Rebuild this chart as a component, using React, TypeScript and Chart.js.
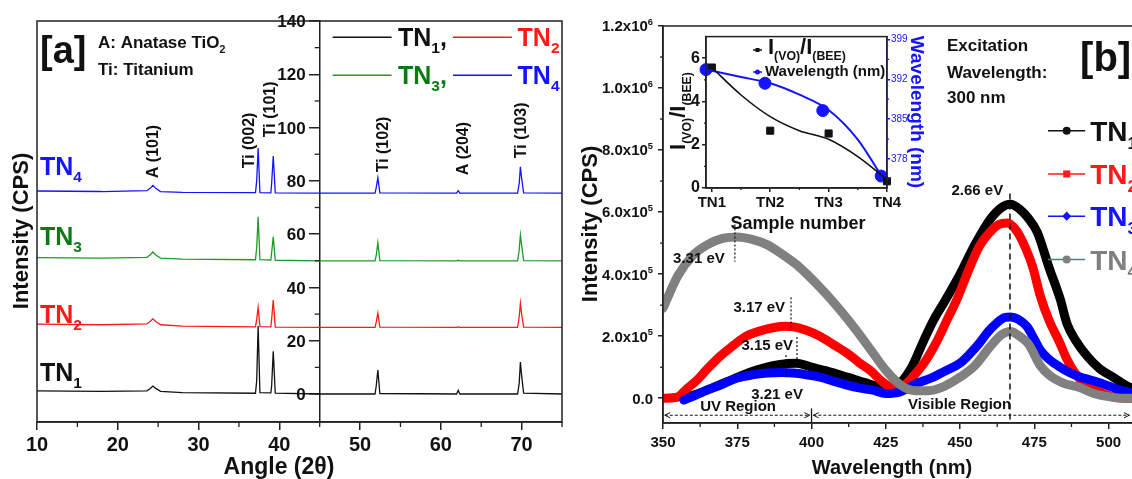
import React, { useEffect, useRef } from 'react';
import { Chart, registerables } from 'chart.js';

Chart.register(...registerables);

const FONT = "'Liberation Sans', Arial, Helvetica, sans-serif";
const INK = '#111111';
const RED = '#ff1a1a';
const GREEN_LINE = '#1f9a2a';
const GREEN_TEXT = '#0a7a12';
const BLUE = '#1414ff';
const GRAY = '#808080';

// ---------------- Panel (a): XRD patterns ----------------
const xrdAngles = [10, 18, 23.6, 24.0, 24.35, 24.7, 25.3, 28, 37.05, 37.2, 37.38, 37.6, 38.95, 39.05, 39.25, 39.5, 45, 51.85, 52.0, 52.2, 52.45, 61.95, 62.15, 62.35, 69.5, 69.7, 69.85, 70.0, 70.25, 75];
const xrdTN1 = [1.2, 1.0, 1.2, 2.0, 3.0, 2.1, 1.0, 0.5, 0.3, 5, 25.5, 0.5, 0.4, 3, 16, 0.3, 0, 0, 3, 9, 0.2, 0, 1.4, 0, 0, 4, 12, 7, 0.3, 0];
const xrdTN2 = [26.2, 26.0, 26.3, 27.2, 28.2, 27.2, 26.0, 25.5, 25.2, 28, 32.5, 25.3, 25.2, 28, 35.3, 25.1, 25.0, 25.0, 27, 30.3, 25.1, 25.0, 25.2, 25.0, 25.0, 29, 34, 30, 25.1, 25.0];
const xrdTN3 = [51.2, 51.0, 51.3, 52.2, 53.3, 52.2, 51.0, 50.6, 50.4, 55, 66.5, 50.4, 50.3, 53, 59, 50.2, 50.0, 50.0, 52, 56.8, 50.1, 50.0, 50.2, 50.0, 50.0, 54, 59.7, 56, 50.1, 50.0];
const xrdTN4 = [76.2, 76.0, 76.3, 77.2, 78.3, 77.2, 76.0, 75.7, 75.6, 80, 92.3, 75.6, 75.5, 79, 89.3, 75.5, 75.4, 75.4, 77.5, 81.2, 75.5, 75.4, 76.3, 75.4, 75.4, 79, 85.3, 81, 75.5, 75.4];
const xrdTicksX = [10, 20, 30, 40, 50, 60, 70];
const xrdMinorX = [15, 25, 35, 45, 55, 65, 75];
const xrdTicksY = [0, 20, 40, 60, 80, 100, 120, 140];
const xrdMinorY = [10, 30, 50, 70, 90, 110, 130];

// ---------------- Panel (b): PL spectra (intensity in units of 1e5 CPS) ----------------
const plWlTN1 = [357, 362, 367, 372, 377, 382, 387, 392, 395, 400, 405, 412, 418, 423, 427, 430, 434, 437.5, 441, 445, 450, 455, 460, 464, 467, 470, 473, 476, 480, 483.7, 486, 489, 493, 497, 501.5, 507, 515];
const plTN1 = [0.0, 0.15, 0.35, 0.55, 0.75, 0.92, 1.05, 1.12, 1.13, 1.0, 0.88, 0.68, 0.5, 0.36, 0.32, 0.5, 1.05, 1.8, 2.5, 3.15, 4.0, 4.95, 5.75, 6.15, 6.25, 6.1, 5.8, 5.35, 4.2, 3.2, 2.4, 1.85, 1.33, 0.95, 0.68, 0.36, 0.15];
const plWlTN2 = [350, 354.7, 358, 361.4, 365, 369, 373, 378, 383, 387, 391, 394, 398, 402.8, 407, 412, 416, 419.7, 423, 425.4, 428, 431, 434, 438, 442, 445.5, 449, 453.4, 456.5, 460, 463, 466, 469, 472, 474.4, 477, 480, 483.5, 486, 488.8, 492, 495.5, 502, 507, 515];
const plTN2 = [0.0, 0.03, 0.3, 0.58, 0.95, 1.33, 1.65, 2.0, 2.18, 2.27, 2.32, 2.3, 2.2, 2.0, 1.75, 1.45, 1.15, 0.9, 0.6, 0.42, 0.3, 0.4, 0.68, 1.15, 1.8, 2.5, 3.2, 4.25, 4.9, 5.35, 5.6, 5.65, 5.4, 4.85, 4.25, 3.3, 2.5, 1.8, 1.25, 0.8, 0.45, 0.26, 0.03, 0.0, 0.0];
const plWlTN3 = [357, 361, 364.8, 370, 375, 380, 385, 390, 394, 398, 402.8, 407, 412, 416, 420.7, 425, 429.8, 432, 436, 441, 445, 450, 453.5, 456.7, 459.5, 462.4, 465, 467, 469.5, 472.6, 475, 477, 480, 483.7, 487, 490.4, 497, 503.8, 510, 515];
const plTN3 = [-0.06, 0.1, 0.26, 0.45, 0.65, 0.75, 0.81, 0.83, 0.81, 0.76, 0.68, 0.56, 0.42, 0.33, 0.26, 0.15, 0.2, 0.3, 0.5, 0.68, 0.88, 1.13, 1.45, 1.8, 2.15, 2.43, 2.6, 2.62, 2.55, 2.3, 1.9, 1.55, 1.25, 1.0, 0.82, 0.68, 0.5, 0.26, 0.12, 0.05];
const plWlTN4 = [350, 355, 360, 365, 370, 375, 380, 385, 390, 395, 400, 405, 410, 415, 420, 425, 430, 435, 440, 445, 450, 455, 460, 464, 467, 470, 473, 477, 480, 485, 490, 495, 500, 505, 515];
const plTN4 = [2.9, 3.95, 4.6, 4.95, 5.15, 5.2, 5.12, 4.95, 4.65, 4.3, 3.85, 3.35, 2.8, 2.2, 1.55, 0.9, 0.42, 0.24, 0.25, 0.4, 0.68, 1.05, 1.65, 2.05, 2.15, 2.0, 1.75, 1.05, 0.75, 0.48, 0.35, 0.15, 0.05, 0.0, 0.0];
const plTicksX = [350, 375, 400, 425, 450, 475, 500];
const plMinorX = [362.5, 387.5, 412.5, 437.5, 462.5, 487.5, 512.5];
const plTicksY = [0, 2, 4, 6, 8, 10, 12];
const plTickLabelsY = ['0.0', '2.0x10^5', '4.0x10^5', '6.0x10^5', '8.0x10^5', '1.0x10^6', '1.2x10^6'];
const plMinorY = [1, 3, 5, 7, 9, 11];

// ---------------- Inset ----------------
const insetSamples = ['TN1', 'TN2', 'TN3', 'TN4'];
const insetX = [0, 1, 2, 3];
const insetRatio = [5.57, 2.65, 2.52, 0.31];
const insetWlX = [-0.1, 0.91, 1.9, 2.9];
const insetWl = [393.7, 391.3, 386.5, 375.0];
const insetRatioFitX = [0, 0.5, 1, 1.5, 2, 2.5, 2.95];
const insetRatioFit = [5.57, 4.3, 3.3, 2.65, 2.25, 1.45, 0.5];
const insetWlFitX = [-0.1, 0.5, 1, 1.5, 2, 2.5, 2.9];
const insetWlFit = [393.7, 392.4, 391.3, 389.3, 386.6, 381.4, 375.1];
const insetTicksY = [0, 2, 4, 6];
const insetMinorY = [1, 3, 5];
const insetTicksY2 = [378, 385, 392, 399];
const insetMinorY2 = [374.5, 381.5, 388.5, 395.5];
const insetMinorX = [0.5, 1.5, 2.5];

// ---------------- decoration helpers ----------------
type Seg = { t: string; k?: 'sub' | 'sup' };
type Txt = { text: string | Seg[]; x: number; y: number; px?: boolean; ys?: string; size: number; color?: string; align?: 'left' | 'center' | 'right'; rot?: number; weight?: string; sub?: number };
type Ln = { x1: number; y1: number; x2: number; y2: number; px?: boolean; ys?: string; color?: string; width?: number; dash?: number[]; arrows?: boolean };
type Minor = { scale: string; values: number[]; len: number; atScale?: string; atValue?: number; color?: string };
type Mark = { x: number; y: number; px?: boolean; ys?: string; shape: 'circle' | 'rect' | 'diamond'; r: number; color: string };
type AxisLabels = { scale: string; atScale?: string; atValue?: number; gap: number; size: number };
type Deco = { texts?: Txt[]; lines?: Ln[]; minor?: Minor[]; frame?: boolean; marks?: Mark[]; axisLabels?: AxisLabels };

function drawRich(ctx: CanvasRenderingContext2D, t: Txt, X: number, Y: number) {
  const segs: Seg[] = typeof t.text === 'string' ? [{ t: t.text }] : t.text;
  const w = t.weight ?? 'bold';
  const subScale = t.sub ?? 0.62;
  const parts = segs.map((s) => {
    const fs = s.k ? t.size * subScale : t.size;
    ctx.font = `${w} ${fs}px ${FONT}`;
    return { ...s, fs, w: ctx.measureText(s.t).width };
  });
  const W = parts.reduce((a, p) => a + p.w, 0);
  let x0 = t.align === 'center' ? -W / 2 : t.align === 'right' ? -W : 0;
  ctx.save();
  ctx.translate(X, Y);
  if (t.rot) ctx.rotate(t.rot);
  ctx.fillStyle = t.color ?? INK;
  ctx.textBaseline = 'alphabetic';
  ctx.textAlign = 'left';
  const base = t.size * 0.36;
  for (const p of parts) {
    ctx.font = `${w} ${p.fs}px ${FONT}`;
    const dy = p.k === 'sub' ? t.size * 0.28 : p.k === 'sup' ? -t.size * 0.45 : 0;
    ctx.fillText(p.t, x0, base + dy);
    x0 += p.w;
  }
  ctx.restore();
}

// "2.0x10^5" -> base text + superscript exponent
const toSegs = (label: string): Seg[] => {
  const [b, e] = label.split('^');
  return e ? [{ t: b }, { t: e, k: 'sup' }] : [{ t: b }];
};

function makeDeco(id: string, d: Deco) {
  return {
    id,
    afterDatasetsDraw(chart: any) {
      const ctx: CanvasRenderingContext2D = chart.ctx;
      const a = chart.chartArea;
      const P = (px: boolean | undefined, x: number, y: number, ys?: string) =>
        px ? [x, y] : [chart.scales.x.getPixelForValue(x), chart.scales[ys ?? 'y'].getPixelForValue(y)];
      ctx.save();
      if (d.frame) {
        ctx.strokeStyle = '#222';
        ctx.lineWidth = 1.5;
        ctx.setLineDash([]);
        ctx.strokeRect(a.left, a.top, a.right - a.left, a.bottom - a.top);
      }
      if (d.axisLabels) {
        const al = d.axisLabels;
        const s = chart.scales[al.scale];
        const axisX = al.atScale ? chart.scales[al.atScale].getPixelForValue(al.atValue) : s.right;
        for (const tk of s.ticks) {
          drawRich(
            ctx,
            { text: toSegs(String(tk.label ?? tk.value)), x: 0, y: 0, size: al.size, align: 'right', sub: 0.62 },
            axisX - al.gap,
            s.getPixelForValue(tk.value)
          );
        }
      }
      for (const m of d.minor ?? []) {
        const s = chart.scales[m.scale];
        ctx.strokeStyle = m.color ?? '#222';
        ctx.lineWidth = 1.3;
        for (const v of m.values) {
          const p = s.getPixelForValue(v);
          ctx.beginPath();
          if (s.isHorizontal()) {
            ctx.moveTo(p, s.top);
            ctx.lineTo(p, s.top + m.len);
          } else {
            let x0 = s.right;
            let dir = -1;
            if (m.atScale) {
              x0 = chart.scales[m.atScale].getPixelForValue(m.atValue);
            } else if (s.position === 'right') {
              x0 = s.left;
              dir = 1;
            }
            ctx.moveTo(x0, p);
            ctx.lineTo(x0 + dir * m.len, p);
          }
          ctx.stroke();
        }
      }
      for (const l of d.lines ?? []) {
        const [x1, y1] = P(l.px, l.x1, l.y1, l.ys);
        const [x2, y2] = P(l.px, l.x2, l.y2, l.ys);
        ctx.strokeStyle = l.color ?? INK;
        ctx.lineWidth = l.width ?? 1.2;
        ctx.setLineDash(l.dash ?? []);
        ctx.beginPath();
        ctx.moveTo(x1, y1);
        ctx.lineTo(x2, y2);
        ctx.stroke();
        ctx.setLineDash([]);
        if (l.arrows) {
          const ang = Math.atan2(y2 - y1, x2 - x1);
          const head = (x: number, y: number, dirAng: number) => {
            ctx.beginPath();
            ctx.moveTo(x + 6 * Math.cos(dirAng + 0.45), y + 6 * Math.sin(dirAng + 0.45));
            ctx.lineTo(x, y);
            ctx.lineTo(x + 6 * Math.cos(dirAng - 0.45), y + 6 * Math.sin(dirAng - 0.45));
            ctx.stroke();
          };
          head(x1, y1, ang);
          head(x2, y2, ang + Math.PI);
        }
      }
      for (const m of d.marks ?? []) {
        const [x, y] = P(m.px, m.x, m.y, m.ys);
        ctx.fillStyle = m.color;
        ctx.beginPath();
        if (m.shape === 'circle') ctx.arc(x, y, m.r, 0, Math.PI * 2);
        else if (m.shape === 'rect') ctx.rect(x - m.r, y - m.r, 2 * m.r, 2 * m.r);
        else {
          ctx.moveTo(x, y - m.r * 1.3);
          ctx.lineTo(x + m.r * 1.3, y);
          ctx.lineTo(x, y + m.r * 1.3);
          ctx.lineTo(x - m.r * 1.3, y);
          ctx.closePath();
        }
        ctx.fill();
      }
      for (const t of d.texts ?? []) {
        const [x, y] = P(t.px, t.x, t.y, t.ys);
        drawRich(ctx, t, x, y);
      }
      ctx.restore();
    },
  };
}

const tickFont = (size: number) => ({ family: FONT, size, weight: 'bold' as const });
const axisGrid = (len: number, color = '#222') => ({ drawOnChartArea: false, drawTicks: true, tickLength: len, color, lineWidth: 1.5 });
const setTicks = (vals: number[]) => (s: any) => {
  s.ticks = vals.map((v) => ({ value: v }));
};
const pts = (xs: number[], ys: number[]) => xs.map((x, i) => ({ x, y: ys[i] }));

const TN = (n: string, comma = false): Seg[] => (comma ? [{ t: 'TN' }, { t: n, k: 'sub' }, { t: ',' }] : [{ t: 'TN' }, { t: n, k: 'sub' }]);

// ---------------- annotation configs ----------------
const xrdDeco: Deco = {
  frame: true,
  axisLabels: { scale: 'y', atScale: 'x', atValue: 45, gap: 14, size: 17 },
  minor: [
    { scale: 'x', values: xrdMinorX, len: 5 },
    { scale: 'y', values: xrdMinorY, len: 5, atScale: 'x', atValue: 45 },
  ],
  lines: [
    { x1: 46.6, y1: 133.9, x2: 53.9, y2: 133.9, color: INK, width: 1.5 },
    { x1: 61.5, y1: 133.9, x2: 68.8, y2: 133.9, color: RED, width: 1.5 },
    { x1: 46.6, y1: 119.6, x2: 53.9, y2: 119.6, color: GREEN_LINE, width: 1.5 },
    { x1: 61.5, y1: 119.6, x2: 68.8, y2: 119.6, color: BLUE, width: 1.5 },
  ],
  texts: [
    { text: '[a]', x: 10.37, y: 129.4, size: 38 },
    { text: [{ t: 'A: Anatase TiO' }, { t: '2', k: 'sub' }], x: 17.55, y: 132, size: 17 },
    { text: 'Ti: Titanium', x: 17.55, y: 122.2, size: 17 },
    { text: TN('4'), x: 10.37, y: 85.5, size: 25, color: BLUE },
    { text: TN('3'), x: 10.37, y: 59.2, size: 25, color: GREEN_TEXT },
    { text: TN('2'), x: 10.37, y: 30.2, size: 25, color: RED },
    { text: TN('1'), x: 10.37, y: 8.25, size: 25, color: INK },
    { text: 'A (101)', x: 24.23, y: 81, size: 16, rot: -Math.PI / 2 },
    { text: 'Ti (002)', x: 36.1, y: 84.7, size: 16, rot: -Math.PI / 2 },
    { text: 'Ti (101)', x: 38.7, y: 96.4, size: 16, rot: -Math.PI / 2 },
    { text: 'Ti (102)', x: 52.8, y: 83.2, size: 16, rot: -Math.PI / 2 },
    { text: 'A (204)', x: 62.7, y: 82.1, size: 16, rot: -Math.PI / 2 },
    { text: 'Ti (103)', x: 69.8, y: 88.5, size: 16, rot: -Math.PI / 2 },
    { text: TN('1', true), x: 54.7, y: 133.9, size: 25, color: INK },
    { text: TN('2'), x: 69.5, y: 133.9, size: 25, color: RED },
    { text: TN('3', true), x: 54.7, y: 119.6, size: 25, color: GREEN_TEXT },
    { text: TN('4'), x: 69.5, y: 119.6, size: 25, color: BLUE },
    { text: 'Intensity (CPS)', x: 20, y: 231, px: true, size: 22, rot: -Math.PI / 2, align: 'center' },
    { text: 'Angle (2\u03b8)', x: 279, y: 466, px: true, size: 23, align: 'center' },
  ],
};

const plDeco: Deco = {
  frame: true,
  axisLabels: { scale: 'y', gap: 10, size: 15 },
  minor: [
    { scale: 'x', values: plMinorX, len: 4 },
    { scale: 'y', values: plMinorY, len: 3 },
  ],
  lines: [
    { x1: 466.8, y1: 6.6, x2: 466.8, y2: -0.8, dash: [6, 4], width: 1.5 },
    { x1: 374.2, y1: 5.6, x2: 374.2, y2: 4.4, dash: [2, 2], width: 1.2 },
    { x1: 393.1, y1: 3.25, x2: 393.1, y2: 2.2, dash: [2, 2], width: 1.2 },
    { x1: 395.1, y1: 1.97, x2: 395.1, y2: 1.13, dash: [2, 2], width: 1.2 },
    { x1: 391.4, y1: 1.39, x2: 391.4, y2: 0.68, dash: [2, 2], width: 1.2 },
    { x1: 350.6, y1: -0.55, x2: 399.4, y2: -0.55, dash: [3, 2], width: 1, arrows: true },
    { x1: 400, y1: -0.33, x2: 400, y2: -0.77, width: 1.3 },
    { x1: 400.6, y1: -0.55, x2: 507, y2: -0.55, dash: [3, 2], width: 1, arrows: true },
    { x1: 479.6, y1: 8.62, x2: 492.1, y2: 8.62, color: INK, width: 1.5 },
    { x1: 479.6, y1: 7.23, x2: 492.1, y2: 7.23, color: RED, width: 1.5 },
    { x1: 479.6, y1: 5.87, x2: 492.1, y2: 5.87, color: BLUE, width: 1.5 },
    { x1: 479.6, y1: 4.47, x2: 492.1, y2: 4.47, color: '#2f8f80', width: 1.5 },
  ],
  marks: [
    { x: 485.9, y: 8.62, shape: 'circle', r: 4, color: INK },
    { x: 485.9, y: 7.23, shape: 'rect', r: 3.5, color: RED },
    { x: 485.9, y: 5.87, shape: 'diamond', r: 3.5, color: BLUE },
    { x: 485.9, y: 4.47, shape: 'circle', r: 4, color: GRAY },
  ],
  texts: [
    { text: '2.66 eV', x: 464.5, y: 6.74, size: 15, align: 'right' },
    { text: '3.31 eV', x: 353.4, y: 4.54, size: 15 },
    { text: '3.17 eV', x: 391.1, y: 2.95, size: 15, align: 'right' },
    { text: '3.15 eV', x: 393.8, y: 1.72, size: 15, align: 'right' },
    { text: '3.21 eV', x: 397.1, y: 0.16, size: 15, align: 'right' },
    { text: 'UV Region', x: 362.5, y: -0.23, size: 15 },
    { text: 'Visible Region', x: 432.5, y: -0.16, size: 15 },
    { text: 'Excitation', x: 445.6, y: 11.38, size: 17 },
    { text: 'Wavelength:', x: 445.6, y: 10.53, size: 17 },
    { text: '300 nm', x: 445.6, y: 9.72, size: 17 },
    { text: '[b]', x: 490.4, y: 11.02, size: 40 },
    { text: TN('1'), x: 493.8, y: 8.62, size: 28, color: INK },
    { text: TN('2'), x: 493.8, y: 7.23, size: 28, color: RED },
    { text: TN('3'), x: 493.8, y: 5.87, size: 28, color: BLUE },
    { text: TN('4'), x: 493.8, y: 4.47, size: 28, color: GRAY },
    { text: 'Intensity (CPS)', x: 9, y: 224, px: true, size: 22, rot: -Math.PI / 2, align: 'center' },
    { text: 'Wavelength (nm)', x: 312, y: 467, px: true, size: 20, align: 'center' },
  ],
};

const ratioSegs: Seg[] = [{ t: 'I' }, { t: '(VO)', k: 'sub' }, { t: '/I' }, { t: '(BEE)', k: 'sub' }];
const insetDeco: Deco = {
  frame: true,
  minor: [
    { scale: 'x', values: insetMinorX, len: 2 },
    { scale: 'y', values: insetMinorY, len: 2 },
    { scale: 'y2', values: insetMinorY2, len: 2, color: BLUE },
  ],
  lines: [
    { x1: 113, y1: 25, x2: 122, y2: 25, px: true, color: INK, width: 1.5 },
    { x1: 113, y1: 47, x2: 122, y2: 47, px: true, color: BLUE, width: 1.5 },
  ],
  marks: [
    { x: 117.5, y: 25, px: true, shape: 'rect', r: 2, color: INK },
    { x: 117.5, y: 47, px: true, shape: 'circle', r: 2.5, color: BLUE },
  ],
  texts: [
    { text: ratioSegs, x: 128, y: 21, px: true, size: 22, sub: 0.56 },
    { text: 'Wavelength (nm)', x: 125, y: 46, px: true, size: 15 },
    { text: ratioSegs, x: 37, y: 86, px: true, size: 22, sub: 0.56, rot: -Math.PI / 2, align: 'center' },
    { text: 'Wavelength (nm)', x: 278, y: 87, px: true, size: 19, rot: Math.PI / 2, align: 'center', color: BLUE },
    { text: 'Sample number', x: 158, y: 198, px: true, size: 18, align: 'center' },
  ],
};

export default function App() {
  const aRef = useRef<HTMLCanvasElement>(null);
  const bRef = useRef<HTMLCanvasElement>(null);
  const iRef = useRef<HTMLCanvasElement>(null);

  useEffect(() => {
    const charts: Chart[] = [];
    const xrdLine = (label: string, ys: number[], color: string) => ({
      label,
      data: pts(xrdAngles, ys),
      borderColor: color,
      borderWidth: 1.3,
      pointRadius: 0,
      tension: 0,
      clip: 0,
    });
    charts.push(
      new Chart(aRef.current as HTMLCanvasElement, {
        type: 'line',
        data: {
          datasets: [
            xrdLine('TN1', xrdTN1, INK),
            xrdLine('TN2', xrdTN2, RED),
            xrdLine('TN3', xrdTN3, GREEN_LINE),
            xrdLine('TN4', xrdTN4, BLUE),
          ],
        },
        options: {
          animation: false,
          responsive: false,
          layout: { padding: { left: 37, right: 18, top: 21, bottom: 0 } },
          plugins: { legend: { display: false }, tooltip: { enabled: false } },
          scales: {
            x: {
              type: 'linear',
              min: 10,
              max: 75,
              afterBuildTicks: setTicks(xrdTicksX),
              afterFit: (s: any) => {
                s.height = 57;
              },
              ticks: { font: tickFont(20), color: INK, padding: 3, maxRotation: 0, autoSkip: false },
              grid: axisGrid(8),
              border: { color: '#222', width: 1.5 },
            },
            y: {
              type: 'linear',
              min: -10.5,
              max: 140,
              position: { x: 45 } as any,
              afterBuildTicks: setTicks(xrdTicksY),
              ticks: { display: false, font: tickFont(17), color: INK, autoSkip: false },
              grid: axisGrid(10),
              border: { color: '#222', width: 1.5 },
            },
          },
        } as any,
        plugins: [makeDeco('xrdDeco', xrdDeco)],
      })
    );

    const plLine = (label: string, xs: number[], ys: number[], color: string, order: number) => ({
      label,
      data: pts(xs, ys),
      borderColor: color,
      borderWidth: 9,
      pointRadius: 0,
      cubicInterpolationMode: 'monotone',
      borderJoinStyle: 'round',
      borderCapStyle: 'round',
      clip: 0,
      order,
    });
    charts.push(
      new Chart(bRef.current as HTMLCanvasElement, {
        type: 'line',
        data: {
          datasets: [
            plLine('TN1', plWlTN1, plTN1, '#000000', 4),
            plLine('TN2', plWlTN2, plTN2, '#ff0000', 3),
            plLine('TN3', plWlTN3, plTN3, '#0000ff', 2),
            plLine('TN4', plWlTN4, plTN4, GRAY, 1),
          ],
        },
        options: {
          animation: false,
          responsive: false,
          layout: { padding: { left: 0, right: 12, top: 26, bottom: 0 } },
          plugins: { legend: { display: false }, tooltip: { enabled: false } },
          scales: {
            x: {
              type: 'linear',
              min: 350,
              max: 520,
              afterBuildTicks: setTicks(plTicksX),
              afterFit: (s: any) => {
                s.height = 56;
              },
              ticks: { font: tickFont(15), color: INK, padding: 5, maxRotation: 0, autoSkip: false },
              grid: axisGrid(6),
              border: { color: '#222', width: 1.5 },
            },
            y: {
              type: 'linear',
              min: -0.8,
              max: 12,
              afterBuildTicks: setTicks(plTicksY),
              afterFit: (s: any) => {
                s.width = 83;
              },
              ticks: {
                display: false,
                autoSkip: false,
                callback: (v: any) => plTickLabelsY[plTicksY.indexOf(Number(v))] ?? '',
              },
              grid: axisGrid(5),
              border: { color: '#222', width: 1.5 },
            },
          },
        } as any,
        plugins: [makeDeco('plDeco', plDeco)],
      })
    );

    charts.push(
      new Chart(iRef.current as HTMLCanvasElement, {
        type: 'line',
        data: {
          datasets: [
            {
              label: 'ratio fit',
              data: pts(insetRatioFitX, insetRatioFit),
              borderColor: INK,
              borderWidth: 1.6,
              pointRadius: 0,
              cubicInterpolationMode: 'monotone',
              yAxisID: 'y',
              clip: false,
            },
            {
              label: 'wl fit',
              data: pts(insetWlFitX, insetWlFit),
              borderColor: BLUE,
              borderWidth: 2,
              pointRadius: 0,
              cubicInterpolationMode: 'monotone',
              yAxisID: 'y2',
              clip: false,
            },
            {
              label: 'ratio',
              data: pts(insetX, insetRatio),
              showLine: false,
              pointStyle: 'rect',
              pointRadius: 5,
              pointBackgroundColor: INK,
              pointBorderColor: INK,
              yAxisID: 'y',
              clip: false,
            },
            {
              label: 'wavelength',
              data: pts(insetWlX, insetWl),
              showLine: false,
              pointStyle: 'circle',
              pointRadius: 6,
              pointBackgroundColor: BLUE,
              pointBorderColor: BLUE,
              yAxisID: 'y2',
              clip: false,
            },
          ],
        },
        options: {
          animation: false,
          responsive: false,
          layout: { padding: { left: 0, right: 0, top: 7, bottom: 0 } },
          plugins: { legend: { display: false }, tooltip: { enabled: false } },
          scales: {
            x: {
              type: 'linear',
              min: -0.1,
              max: 3.0,
              afterBuildTicks: setTicks(insetX),
              afterFit: (s: any) => {
                s.height = 52;
              },
              ticks: {
                font: tickFont(15),
                color: INK,
                padding: 2,
                maxRotation: 0,
                autoSkip: false,
                callback: (v: any) => insetSamples[Number(v)] ?? '',
              },
              grid: axisGrid(4),
              border: { color: '#222', width: 1.5 },
            },
            y: {
              type: 'linear',
              position: 'left',
              min: 0,
              max: 7,
              afterBuildTicks: setTicks(insetTicksY),
              afterFit: (s: any) => {
                s.width = 66;
              },
              ticks: { font: tickFont(16), color: INK, padding: 2, autoSkip: false },
              grid: axisGrid(4),
              border: { color: '#222', width: 1.5 },
            },
            y2: {
              type: 'linear',
              position: 'right',
              min: 372.9,
              max: 399.5,
              afterBuildTicks: setTicks(insetTicksY2),
              afterFit: (s: any) => {
                s.width = 53;
              },
              ticks: { font: { family: FONT, size: 10 }, color: BLUE, padding: 1, autoSkip: false },
              grid: axisGrid(3, BLUE),
              border: { color: BLUE, width: 1.5 },
            },
          },
        } as any,
        plugins: [makeDeco('insetDeco', insetDeco)],
      })
    );

    return () => {
      charts.forEach((c) => c.destroy());
    };
  }, []);

  return (
    <div
      style={{
        position: 'fixed',
        left: 0,
        top: 0,
        width: 1132,
        height: 479,
        overflow: 'hidden',
        background: '#ffffff',
      }}
    >
      <canvas ref={aRef} width={580} height={479} style={{ position: 'absolute', left: 0, top: 0 }} />
      <canvas ref={bRef} width={600} height={479} style={{ position: 'absolute', left: 580, top: 0 }} />
      <canvas ref={iRef} width={300} height={215} style={{ position: 'absolute', left: 640, top: 25 }} />
    </div>
  );
}
